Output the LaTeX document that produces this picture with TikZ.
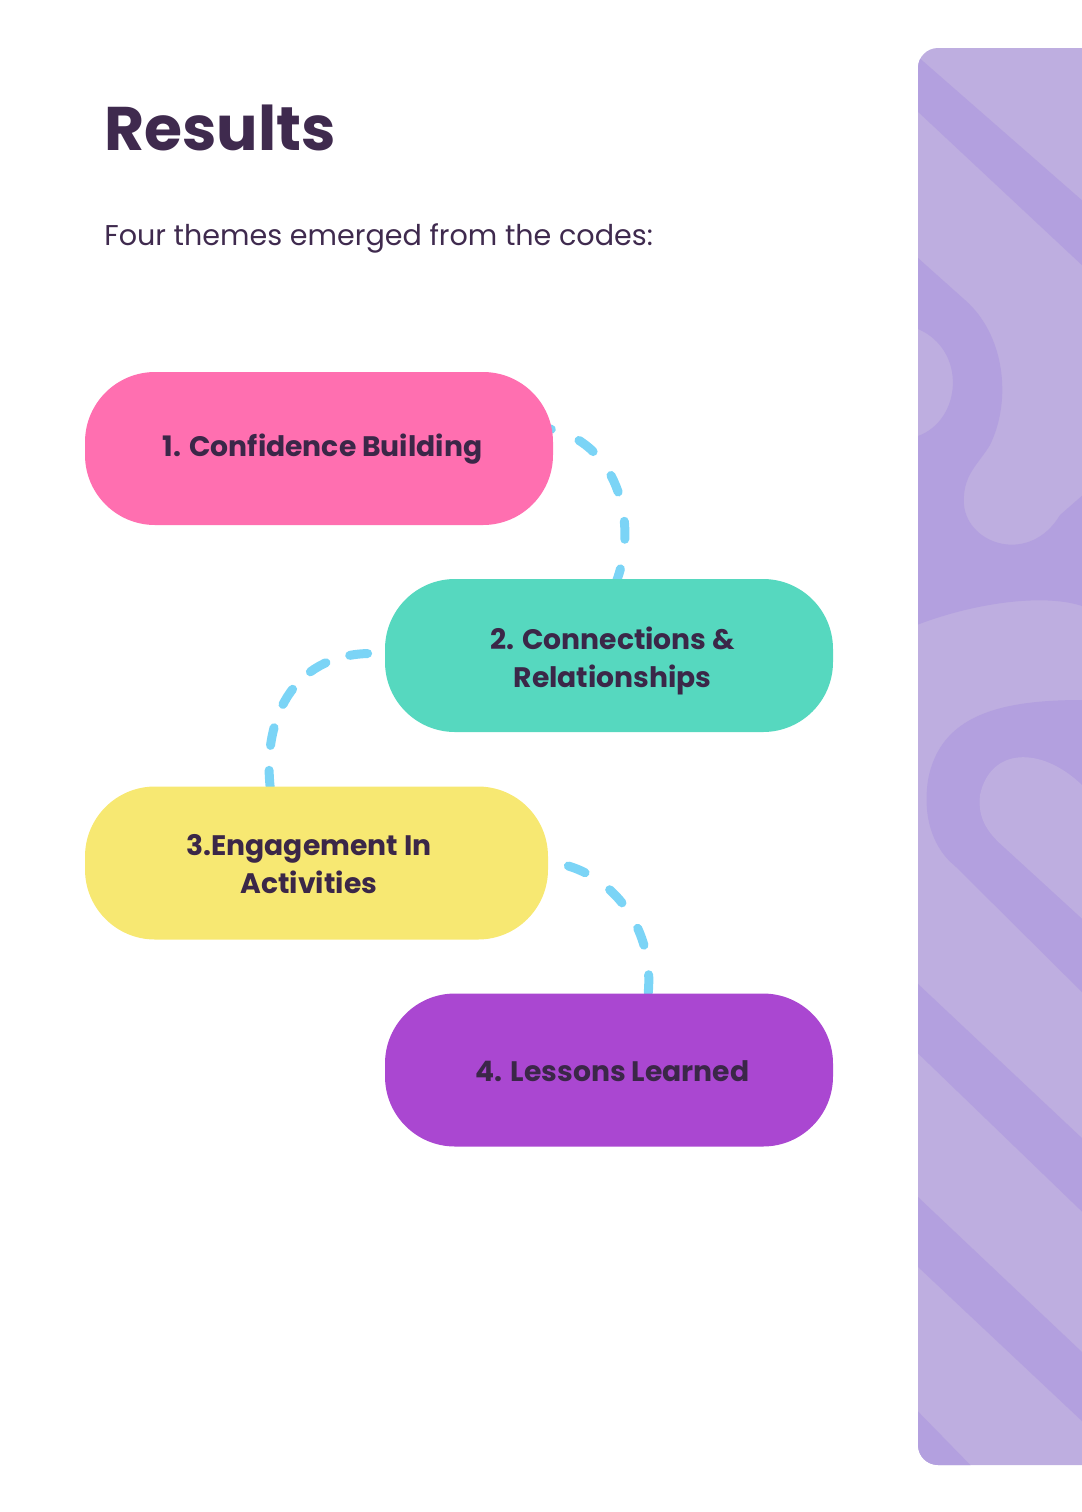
\documentclass[tikz,border=0pt]{standalone}
\usepackage{fontspec}
\setmainfont{Poppins}
\definecolor{ink}{HTML}{3F2A4E}
\definecolor{nodeink}{HTML}{3B2748}
\definecolor{pinkc}{HTML}{FF6FB0}
\definecolor{tealc}{HTML}{56D8BF}
\definecolor{yellowc}{HTML}{F7E872}
\definecolor{purplec}{HTML}{AA47D1}
\definecolor{sky}{HTML}{7BD4F6}
\definecolor{lav}{HTML}{BEAEE0}
\definecolor{lavd}{HTML}{B3A0DF}
\pgfdeclarelayer{bg}
\pgfsetlayers{bg,main}
\begin{document}
\begin{tikzpicture}[x=0.5pt,y=-0.5pt,
  blob/.style={rectangle, rounded corners=35pt, minimum height=76.5pt, inner sep=0pt},
  themetext/.style={inner sep=0pt, align=center, text=nodeink,
    font=\fontsize{14.1}{19}\selectfont\bfseries},
  link/.style={draw=sky, line width=4.5pt, line cap=round, dash pattern=on 9pt off 15pt}]
\useasboundingbox (0,0) rectangle (1082,1512);

% title and subtitle
\node[anchor=base west, inner sep=0pt, text=ink, font=\fontsize{30.8}{37}\selectfont\bfseries] (title) at (104,150) {Results};
\node[anchor=base west, inner sep=0pt, text=ink, font=\fontsize{14.3}{18}\selectfont] (sub) at (104,245) {Four themes emerged from the codes:};

% theme blobs
\node[blob, fill=pinkc, minimum width=234pt,
  label={[themetext, xshift=1.8pt, yshift=-0.5pt]center:1. Confidence Building}] (t1) at (319,448.5) {};
\node[blob, fill=tealc, minimum width=224pt,
  label={[themetext, xshift=1.8pt, yshift=-2.7pt]center:2. Connections \&\\Relationships}] (t2) at (609,655.5) {};
\node[blob, fill=yellowc, minimum width=231.5pt,
  label={[themetext, xshift=-3.8pt, yshift=-0.5pt]center:3.Engagement In\\Activities}] (t3) at (316.5,863) {};
\node[blob, fill=purplec, minimum width=224pt,
  label={[themetext, xshift=1.8pt, yshift=-0.5pt]center:4. Lessons Learned}] (t4) at (609,1070) {};

\begin{pgfonlayer}{bg}
% decorative side panel
\begin{scope}
  \clip (0,0) rectangle (1082,1512);
  \fill[lav, rounded corners=10pt] (918,48) rectangle (1120,1465);
  \clip[rounded corners=10pt] (918,48) rectangle (1120,1465);
  \fill[lavd] (900,41) -- (1100,216) -- (1100,282) -- (900,95) -- cycle;
  \fill[lavd] (900,246) -- (918,258) -- (965,300)
     .. controls (1005,335) and (1012,400) .. (990,445)
     .. controls (978,465) and (962,475) .. (964,505)
     .. controls (968,545) and (1030,565) .. (1060,515)
     -- (1100,480) -- (1100,606) -- (1082,606)
     .. controls (1040,592) and (960,605) .. (900,632)
     -- (900,440) -- (918,436)
     .. controls (962,420) and (967,350) .. (918,329)
     -- (900,320) -- cycle;
  \fill[lavd] (1100,698) -- (1082,700)
     .. controls (1000,700) and (940,715) .. (928,780)
     .. controls (922,820) and (935,850) .. (955,866)
     -- (1100,1010) -- cycle;
  \fill[lav] (1100,790) -- (1082,785)
     .. controls (1040,745) and (990,748) .. (980,795)
     .. controls (977,820) and (990,835) .. (1005,848)
     -- (1100,935) -- cycle;
  \fill[lavd] (900,967) -- (1100,1155) -- (1100,1229) -- (900,1036) -- cycle;
  \fill[lavd] (900,1180) -- (1100,1369) -- (1100,1438) -- (900,1250) -- cycle;
  \fill[lavd] (900,1393) -- (985,1480) -- (900,1480) -- cycle;
\end{scope}

% dashed connectors
\draw[link, dash phase=7pt] ([xshift=-3pt,yshift=10pt]t1.east)
   .. controls (615,440) and (640,520) .. ([xshift=3.5pt,yshift=-2pt]t2.north);
\draw[link, dash pattern=on 9pt off 12.5pt] ([xshift=-8.5pt,yshift=1pt]t2.west)
   .. controls (292,656) and (262,720) .. ([xshift=-23pt,yshift=-2pt]t3.north);
\draw[link] ([xshift=10pt,yshift=-1.5pt]t3.east)
   .. controls (615,880) and (655,930) .. ([xshift=19.5pt,yshift=-1pt]t4.north);
\end{pgfonlayer}
\end{tikzpicture}
\end{document}
